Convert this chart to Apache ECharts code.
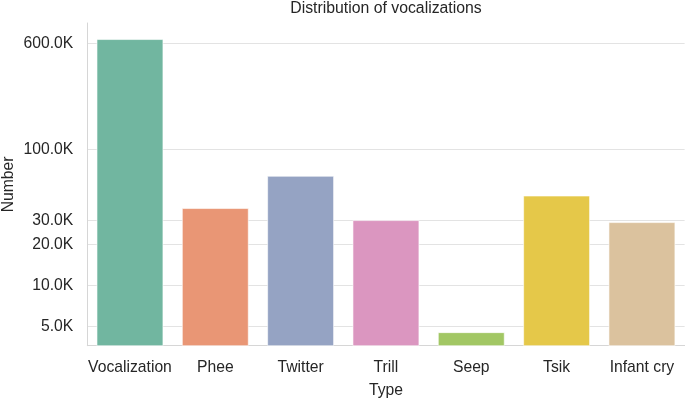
<!DOCTYPE html>
<html>
<head>
<meta charset="utf-8">
<script src="https://cdn.jsdelivr.net/npm/echarts@6/dist/echarts.min.js"></script>
<style>
    html, body { margin: 0; padding: 0; background: #fff; }
    #chart { width: 685px; height: 398px; }
</style>
</head>
<body>
<div id="chart"></div>
<script>
// data
var categories = ['Vocalization', 'Phee', 'Twitter', 'Trill', 'Seep', 'Tsik', 'Infant cry']
var counts = [642000, 36900, 63700, 30100, 4530, 45600, 29100]
var yTicks = [5000, 10000, 20000, 30000, 100000, 600000]
// seaborn Set2, desaturated to 0.75
var colors = ['#71b6a0', '#e99675', '#95a3c3', '#db96c0', '#a2c764', '#e5c849', '#dbc29e']

var font = '"Liberation Sans", Arial, sans-serif'
var textColor = '#262626'

var chart = echarts.init(document.getElementById('chart'))
chart.setOption({
    animation: false,
    backgroundColor: '#fff',
    textStyle: { fontFamily: font },
    title: {
        text: 'Distribution of vocalizations',
        left: 386,
        textAlign: 'center',
        top: 1,
        padding: 0,
        textStyle: { fontSize: 15.8, fontWeight: 'normal', color: textColor, fontFamily: font }
    },
    grid: {
        left: 87.3,
        right: 0.4,
        top: 23,
        bottom: 52.3,
        containLabel: false,
        outerBoundsMode: 'none'
    },
    xAxis: {
        type: 'category',
        data: categories,
        name: 'Type',
        nameLocation: 'middle',
        nameGap: 37,
        nameMoveOverlap: false,
        nameTextStyle: { fontSize: 15.7, color: textColor, fontFamily: font },
        axisLine: { lineStyle: { color: '#d6d6d6', width: 1 } },
        axisTick: { show: false },
        axisLabel: { fontSize: 15.7, color: textColor, margin: 14, fontFamily: font, interval: 0 }
    },
    yAxis: {
        type: 'log',
        min: 3615,
        max: 845000,
        name: 'Number',
        nameLocation: 'middle',
        nameRotate: 90,
        nameGap: 71,
        nameMoveOverlap: false,
        nameTextStyle: { fontSize: 15.7, color: textColor, fontFamily: font },
        axisLine: { show: true, lineStyle: { color: '#d6d6d6', width: 1 } },
        axisTick: { show: false, customValues: yTicks },
        axisLabel: {
            customValues: yTicks,
            fontSize: 15.7,
            color: textColor,
            margin: 14,
            fontFamily: font,
            formatter: function (v) {
                return (v / 1000).toFixed(1) + 'K'
            }
        },
        splitLine: { show: true, lineStyle: { color: '#e3e3e3', width: 1 } }
    },
    series: [
        {
            type: 'bar',
            data: counts.map(function (v, i) {
                return { value: v, itemStyle: { color: colors[i] } }
            }),
            barCategoryGap: '22%',
            clip: true,
            itemStyle: { borderColor: '#fff', borderWidth: 0.6 }
        }
    ]
})
</script>
</body>
</html>
